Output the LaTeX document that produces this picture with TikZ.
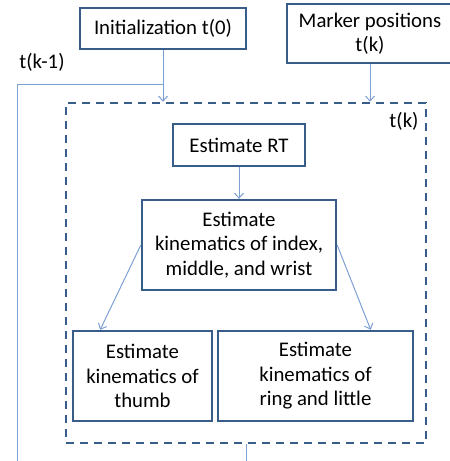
\documentclass[tikz,border=0pt]{standalone}
\usepackage{fontspec}
\setmainfont{Carlito}
\usetikzlibrary{calc,arrows.meta}
\definecolor{boxblue}{RGB}{56,93,138}
\definecolor{linkblue}{RGB}{124,160,212}
\tikzset{
  stepbox/.style={draw=boxblue, line width=2.3pt, align=center, inner sep=0pt},
  loopbox/.style={draw=boxblue, line width=2.5pt, dash pattern=on 8pt off 6pt},
  link/.style={draw=linkblue, line width=1pt},
  linkarrow/.style={link, -{Straight Barb[length=5pt,width=9pt]}},
}

\begin{document}
\begin{tikzpicture}[x=1pt, y=-1pt, font=\fontsize{20.8}{24.5}\selectfont]
			%%%%% START %%%%%
			\useasboundingbox (0,0) rectangle (450,461);
			
			\node[stepbox, minimum width=166pt, minimum height=41pt] (init) at (163,28.5) {Initialization t(0)};
			\node[stepbox, minimum width=166pt, minimum height=59pt] (marker) at (370,33.5) {Marker positions\\t(k)};
			\node (tkprev) at (42,62) {t(k-1)};
			
			\node[loopbox, minimum width=360pt, minimum height=340pt] (loop) at (246,273) {};
			\node (tk) at (404,121) {t(k)};
			
			\node[stepbox, minimum width=132pt, minimum height=42pt] (rt) at (239,145) {Estimate RT};
			\node[stepbox, minimum width=194pt, minimum height=90pt] (kin) at (239,245) {Estimate\\kinematics of index,\\middle, and wrist};
			\node[stepbox, minimum width=139pt, minimum height=90pt] (thumb) at (142.5,376) {Estimate\\kinematics of\\thumb};
			\node[stepbox, minimum width=195pt, minimum height=90pt] (ring) at (315.5,376) {Estimate\\kinematics of\\ring and little};
			
			\coordinate (split) at (163,84);
			\coordinate (back) at (17,461);
			\draw[link] (back) |- (split);
			\draw[linkarrow] (init) -- (init |- loop.north);
			\draw[linkarrow] (marker) -- (marker |- loop.north);
			\draw[linkarrow] (rt) -- (kin);
			\draw[linkarrow] (kin.west) -- ($(thumb.north west)!0.2!(thumb.north east)$);
			\draw[linkarrow] (kin.east) -- ($(ring.north west)!0.78!(ring.north east)$);
			\draw[link] (loop.south) -- (loop.south |- back);
			
			%%%%% END %%%%%
		\end{tikzpicture}
\end{document}
